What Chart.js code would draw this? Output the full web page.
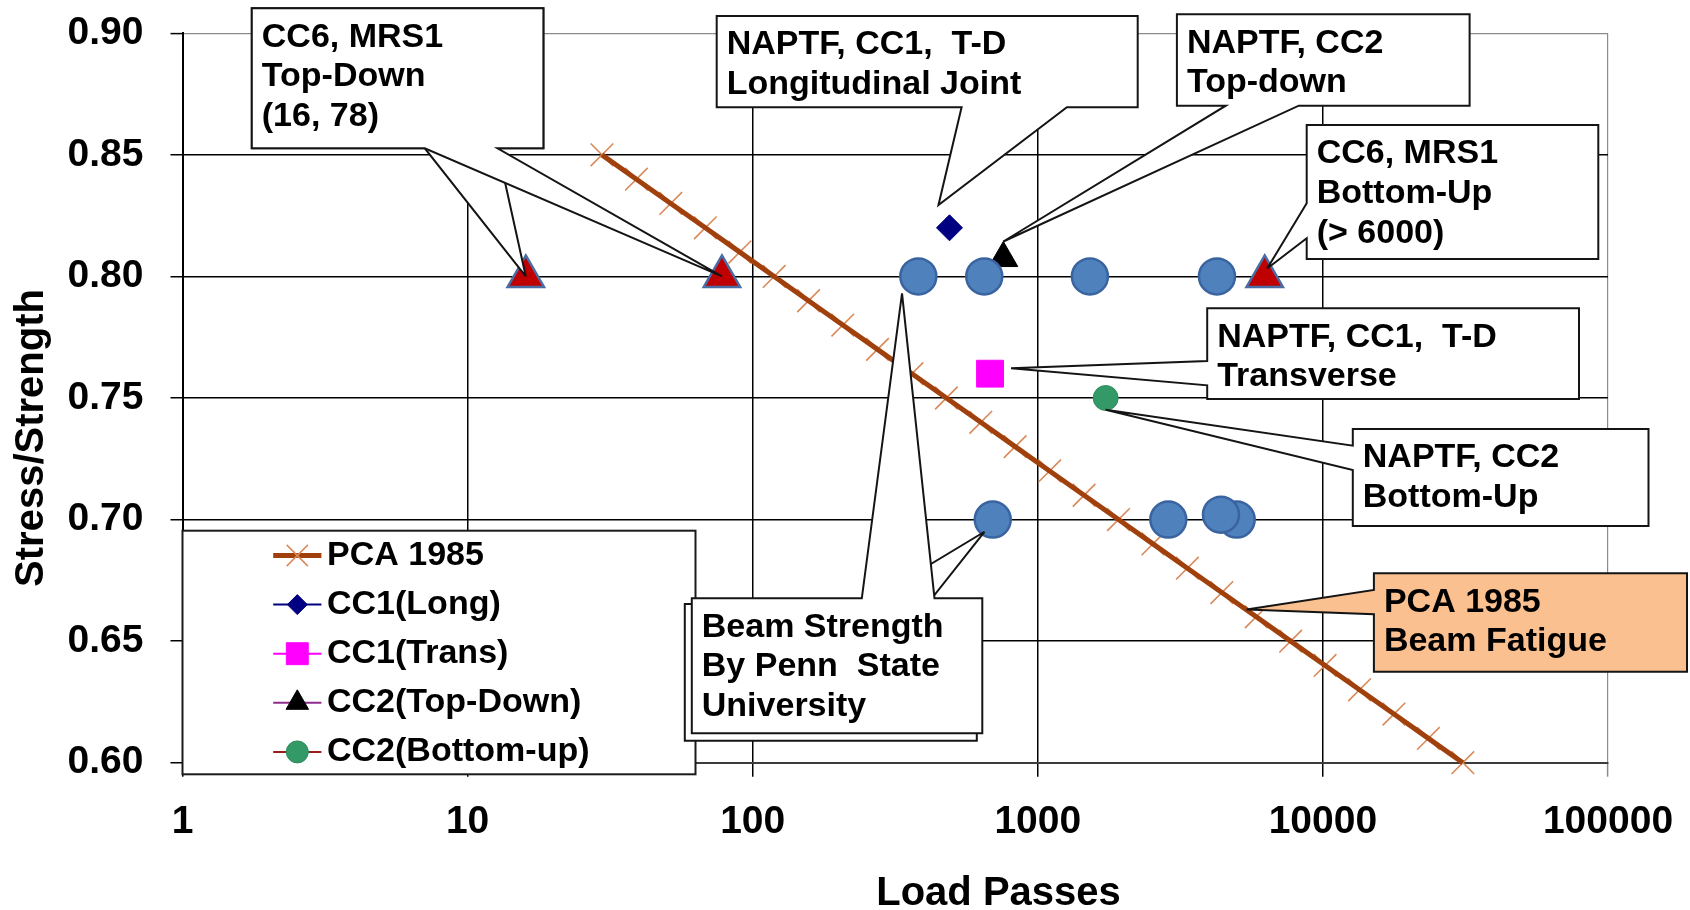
<!DOCTYPE html>
<html>
<head>
<meta charset="utf-8">
<title>Stress/Strength vs Load Passes</title>
<script src="https://cdn.jsdelivr.net/npm/chart.js@4.4.1/dist/chart.umd.min.js"></script>
<style>
  html, body { margin: 0; padding: 0; background: #ffffff; }
  canvas { display: block; }
</style>
</head>
<body>
<canvas id="fatigue" width="1690" height="910"></canvas>
<script>
const FONT = "'Liberation Sans', Arial, Helvetica, sans-serif";

// Axis ticks
const xTickValues = [1, 10, 100, 1000, 10000, 100000];
const xTickLabels = ['1', '10', '100', '1000', '10000', '100000'];
const yTickValues = [0.60, 0.65, 0.70, 0.75, 0.80, 0.85, 0.90];
const yTickLabels = ['0.60', '0.65', '0.70', '0.75', '0.80', '0.85', '0.90'];
const xAxisTitle = 'Load Passes';
const yAxisTitle = 'Stress/Strength';

// PCA 1985 beam fatigue curve
const pcaStress = [0.85, 0.84, 0.83, 0.82, 0.81, 0.80, 0.79, 0.78, 0.77, 0.76, 0.75, 0.74, 0.73,
                   0.72, 0.71, 0.70, 0.69, 0.68, 0.67, 0.66, 0.65, 0.64, 0.63, 0.62, 0.61, 0.60];
const pcaPasses = [29.6, 39.1, 51.6, 68.2, 90.1, 119, 157, 207, 274, 362, 478, 631, 833,
                   1100, 1453, 1919, 2534, 3347, 4420, 5837, 7708, 10180, 13440, 17750, 23440, 30960];
const pcaNoteAt = [5400, 0.663];

// Beam strength results (Penn State)
const beamPasses = [381, 649, 1523, 4250, 695, 2869, 4985, 4390];
const beamStress = [0.80, 0.80, 0.80, 0.80, 0.70, 0.70, 0.70, 0.702];

// CC6, MRS1 (two top-down, one bottom-up)
const cc6Passes = [16, 78, 6250];
const cc6Stress = [0.80, 0.80, 0.80];

// NAPTF test items
const cc1LongPasses = [490];    const cc1LongStress = [0.82];
const cc1TransPasses = [680];   const cc1TransStress = [0.76];
const cc2TopPasses = [757];     const cc2TopStress = [0.8075];
const cc2BottomPasses = [1730]; const cc2BottomStress = [0.75];

const pts = (xs, ys) => xs.map((x, i) => ({ x: x, y: ys[i] }));

const PCA_LINE = '#A0410D';
const PCA_MARK = '#D98A5A';

const datasets = [
  // curve drawn above its own cross markers
  { label: 'PCA 1985', data: pts(pcaPasses, pcaStress), showLine: true,
    borderColor: PCA_LINE, borderWidth: 5, pointRadius: 0, pointStyle: 'crossRot',
    pointBorderColor: PCA_MARK, pointBorderWidth: 1.5, pointBackgroundColor: 'rgba(0,0,0,0)',
    order: 7, clip: false, inLegend: true, legendRadius: 15 },
  { label: 'PCA 1985 markers', data: pts(pcaPasses, pcaStress), showLine: false,
    pointStyle: 'crossRot', pointRadius: 16, pointBorderColor: PCA_MARK, pointBorderWidth: 1.6,
    pointBackgroundColor: 'rgba(0,0,0,0)', order: 8, clip: false, inLegend: false },
  { label: 'CC1(Long)', data: pts(cc1LongPasses, cc1LongStress),
    borderColor: '#000080', borderWidth: 2, pointStyle: 'rectRot', pointRadius: 13,
    pointBackgroundColor: '#000080', pointBorderColor: '#000080', pointBorderWidth: 1,
    order: 5, inLegend: true, legendRadius: 10 },
  { label: 'CC1(Trans)', data: pts(cc1TransPasses, cc1TransStress),
    borderColor: '#FF00FF', borderWidth: 2, pointStyle: 'rect', pointRadius: 19,
    pointBackgroundColor: '#FF00FF', pointBorderColor: '#FF00FF', pointBorderWidth: 1,
    order: 4, inLegend: true, legendRadius: 15.5 },
  { label: 'CC2(Top-Down)', data: pts(cc2TopPasses, cc2TopStress),
    borderColor: '#8E2C8E', borderWidth: 2, pointStyle: 'triangle', pointRadius: 16.7,
    pointBackgroundColor: '#000000', pointBorderColor: '#000000', pointBorderWidth: 1,
    order: 6, inLegend: true, legendRadius: 13 },
  { label: 'CC2(Bottom-up)', data: pts(cc2BottomPasses, cc2BottomStress),
    borderColor: '#9E1B1B', borderWidth: 2, pointStyle: 'circle', pointRadius: 12.5,
    pointBackgroundColor: '#339966', pointBorderColor: '#2F8C5E', pointBorderWidth: 1,
    order: 3, inLegend: true, legendRadius: 11 },
  { label: 'Beam Strength', data: pts(beamPasses, beamStress),
    pointStyle: 'circle', pointRadius: 18, pointBackgroundColor: '#4F81BD',
    pointBorderColor: '#3A64A0', pointBorderWidth: 2.5, order: 1, inLegend: false },
  { label: 'CC6, MRS1', data: pts(cc6Passes, cc6Stress),
    pointStyle: 'triangle', pointRadius: 21, pointBackgroundColor: '#C00000',
    pointBorderColor: '#4A6DA3', pointBorderWidth: 2.5, order: 2, inLegend: false }
];

// Callout boxes: box [x, y, w, h], the edge the pointer leaves from, the pointer base on that edge,
// and the data point the pointer reaches (plus a small pixel nudge of the tip).
const callouts = [
  { box: [251.8, 8.3, 291.6, 140], side: 'bottom', base: [424.8, 497.5],
    target: [cc6Passes[0], cc6Stress[0]], nudge: [0, 0], lines: [] },
  { box: [251.8, 8.3, 291.6, 140], side: 'bottom', base: [424.8, 497.5],
    target: [cc6Passes[1], cc6Stress[1]], nudge: [0, 0],
    lines: ['CC6, MRS1', 'Top-Down', '(' + cc6Passes[0] + ', ' + cc6Passes[1] + ')'] },
  { box: [716.7, 16, 421, 91.3], side: 'bottom', base: [961.6, 1066.9],
    target: [cc1LongPasses[0], cc1LongStress[0]], nudge: [-11, -22.7],
    lines: ['NAPTF, CC1,  T-D', 'Longitudinal Joint'] },
  { box: [1176.9, 14.3, 292.7, 91.4], side: 'bottom', base: [1225.8, 1298.8],
    target: [cc2TopPasses[0], cc2TopStress[0]], nudge: [0, -16.7],
    lines: ['NAPTF, CC2', 'Top-down'] },
  { box: [1306.7, 125, 291.6, 134], side: 'left', base: [203.3, 238.3],
    target: [cc6Passes[2], cc6Stress[2]], nudge: [2.5, -8],
    lines: ['CC6, MRS1', 'Bottom-Up', '(> 6000)'] },
  { box: [1207.2, 308.3, 371.8, 90.7], side: 'left', base: [361, 385.3],
    target: [cc1TransPasses[0], cc1TransStress[0]], nudge: [21, -5.4],
    lines: ['NAPTF, CC1,  T-D', 'Transverse'] },
  { box: [1352.8, 429, 295.7, 97], side: 'left', base: [445.7, 470],
    target: [cc2BottomPasses[0], cc2BottomStress[0]], nudge: [0, 11.7],
    lines: ['NAPTF, CC2', 'Bottom-Up'] },
  { box: [1373.9, 573.3, 313.1, 98.4], side: 'left', base: [590, 614.3],
    target: pcaNoteAt, nudge: [0, 0], fill: '#FAC090',
    lines: ['PCA 1985', 'Beam Fatigue'] },
  { box: [684.8, 604, 292, 136.7], side: 'top', base: [864.4, 927.4],
    target: [beamPasses[4], beamStress[4]], nudge: [-8.3, 12.2], lines: [] },
  { box: [691.8, 598.3, 290.5, 135], side: 'top', base: [861.8, 934.5],
    target: [beamPasses[0], beamStress[0]], nudge: [-16.3, 16.9],
    lines: ['Beam Strength', 'By Penn  State', 'University'] }
];

const legendBox = { x: 182.5, y: 530.7, w: 513, h: 243.6, rowY: 555.5, rowStep: 49.1,
                    lineX0: 273.2, lineX1: 321.4, markX: 297.3, textX: 327 };

function drawMarker(ctx, style, r, x, y, fill, stroke, bw) {
  ctx.save();
  ctx.beginPath();
  if (style === 'circle') {
    ctx.arc(x, y, r, 0, Math.PI * 2);
  } else if (style === 'rect') {
    const s = r * Math.SQRT1_2;
    ctx.rect(x - s, y - s, 2 * s, 2 * s);
  } else if (style === 'rectRot') {
    ctx.moveTo(x - r, y); ctx.lineTo(x, y - r); ctx.lineTo(x + r, y); ctx.lineTo(x, y + r); ctx.closePath();
  } else if (style === 'triangle') {
    const h = r * Math.sin(Math.PI / 3);
    ctx.moveTo(x, y - r); ctx.lineTo(x + h, y + r / 2); ctx.lineTo(x - h, y + r / 2); ctx.closePath();
  } else if (style === 'crossRot') {
    const d = r * Math.SQRT1_2;
    ctx.moveTo(x - d, y - d); ctx.lineTo(x + d, y + d);
    ctx.moveTo(x + d, y - d); ctx.lineTo(x - d, y + d);
  }
  if (style !== 'crossRot') { ctx.fillStyle = fill; ctx.fill(); }
  if (bw > 0) { ctx.lineWidth = bw; ctx.strokeStyle = stroke; ctx.stroke(); }
  ctx.restore();
}

function calloutPath(ctx, c, tip) {
  const [x, y, w, h] = c.box;
  const r = x + w, b = y + h;
  ctx.beginPath();
  ctx.moveTo(x, y);
  if (c.side === 'top') { ctx.lineTo(c.base[0], y); ctx.lineTo(tip.x, tip.y); ctx.lineTo(c.base[1], y); }
  ctx.lineTo(r, y);
  ctx.lineTo(r, b);
  if (c.side === 'bottom') { ctx.lineTo(c.base[1], b); ctx.lineTo(tip.x, tip.y); ctx.lineTo(c.base[0], b); }
  ctx.lineTo(x, b);
  if (c.side === 'left') { ctx.lineTo(x, c.base[1]); ctx.lineTo(tip.x, tip.y); ctx.lineTo(x, c.base[0]); }
  ctx.closePath();
}

const whiteBackground = {
  id: 'whiteBackground',
  beforeDraw(chart) {
    const ctx = chart.ctx;
    ctx.save();
    ctx.fillStyle = '#ffffff';
    ctx.fillRect(0, 0, chart.width, chart.height);
    ctx.restore();
  }
};

const legendAndNotes = {
  id: 'legendAndNotes',
  afterDatasetsDraw(chart) {
    const ctx = chart.ctx;
    const xs = chart.scales.x, ys = chart.scales.y;

    // legend
    ctx.save();
    ctx.fillStyle = '#ffffff';
    ctx.fillRect(legendBox.x, legendBox.y, legendBox.w, legendBox.h);
    ctx.lineWidth = 2;
    ctx.strokeStyle = '#1a1a1a';
    ctx.strokeRect(legendBox.x, legendBox.y, legendBox.w, legendBox.h);
    ctx.font = 'bold 34px ' + FONT;
    ctx.textBaseline = 'middle';
    ctx.textAlign = 'left';
    let row = 0;
    chart.data.datasets.forEach(ds => {
      if (!ds.inLegend) return;
      const y = legendBox.rowY + row * legendBox.rowStep;
      ctx.beginPath();
      ctx.moveTo(legendBox.lineX0, y);
      ctx.lineTo(legendBox.lineX1, y);
      ctx.lineWidth = ds.borderWidth;
      ctx.strokeStyle = ds.borderColor;
      ctx.stroke();
      drawMarker(ctx, ds.pointStyle, ds.legendRadius, legendBox.markX, y,
                 ds.pointBackgroundColor, ds.pointBorderColor, ds.pointBorderWidth);
      ctx.fillStyle = '#000000';
      ctx.fillText(ds.label, legendBox.textX, y);
      row++;
    });
    ctx.restore();

    // callouts
    ctx.save();
    ctx.lineJoin = 'miter';
    ctx.miterLimit = 4;
    callouts.forEach(c => {
      const tip = {
        x: xs.getPixelForValue(c.target[0]) + c.nudge[0],
        y: ys.getPixelForValue(c.target[1]) + c.nudge[1]
      };
      calloutPath(ctx, c, tip);
      ctx.fillStyle = c.fill || '#ffffff';
      ctx.fill();
      ctx.lineWidth = 2;
      ctx.strokeStyle = '#141414';
      ctx.stroke();
      ctx.font = 'bold 34px ' + FONT;
      ctx.fillStyle = '#000000';
      ctx.textBaseline = 'middle';
      ctx.textAlign = 'left';
      c.lines.forEach((t, i) => ctx.fillText(t, c.box[0] + 10, c.box[1] + 29 + i * 39.6));
    });
    ctx.restore();
  },
  afterDraw(chart) {
    const ctx = chart.ctx;
    ctx.save();
    ctx.font = 'bold 40px ' + FONT;
    ctx.fillStyle = '#000000';
    ctx.textAlign = 'center';
    ctx.textBaseline = 'alphabetic';
    ctx.fillText(xAxisTitle, 998.5, 905);
    ctx.translate(43.3, 438);
    ctx.rotate(-Math.PI / 2);
    ctx.fillText(yAxisTitle, 0, 0);
    ctx.restore();
  }
};

const tickFont = { family: FONT, size: 39, weight: 'bold' };

new Chart(document.getElementById('fatigue'), {
  type: 'scatter',
  data: { datasets: datasets },
  options: {
    responsive: false,
    animation: false,
    events: [],
    layout: { autoPadding: false, padding: { top: 33.3, right: 82, bottom: 0, left: 0 } },
    plugins: { legend: { display: false }, tooltip: { enabled: false }, title: { display: false } },
    scales: {
      x: {
        type: 'logarithmic',
        min: 1,
        max: 100000,
        afterBuildTicks: s => { s.ticks = xTickValues.map(v => ({ value: v })); },
        afterFit: s => {
          s.height = 910 - 762.7;
          s.paddingLeft = 0; s.paddingRight = 0;
        },
        ticks: {
          callback: (v, i) => xTickLabels[i],
          font: tickFont, color: '#000000', padding: 22,
          autoSkip: false, maxRotation: 0, minRotation: 0
        },
        grid: {
          color: c => (c.tick && c.tick.value === 100000) ? '#8c8c8c' : '#000000',
          lineWidth: c => (c.tick && c.tick.value === 100000) ? 1.2 : 1.5,
          tickColor: c => (c.tick && c.tick.value === 100000) ? '#8c8c8c' : '#000000',
          tickLength: 14,
          tickWidth: 1.5
        },
        border: { display: true, color: '#3c3c3c', width: 2 }
      },
      y: {
        min: 0.6,
        max: 0.9,
        afterBuildTicks: s => { s.ticks = yTickValues.map(v => ({ value: v })); },
        afterFit: s => {
          s.width = 182.5;
          s.paddingTop = 0; s.paddingBottom = 0;
        },
        ticks: {
          callback: (v, i) => yTickLabels[i],
          font: tickFont, color: '#000000', padding: 27
        },
        grid: {
          color: c => (c.tick && c.tick.value === 0.9) ? '#8c8c8c' : '#000000',
          lineWidth: c => (c.tick && c.tick.value === 0.9) ? 1.2 : 1.5,
          tickColor: '#000000',
          tickLength: 12,
          tickWidth: 1.5
        },
        border: { display: true, color: '#000000', width: 2 }
      }
    }
  },
  plugins: [whiteBackground, legendAndNotes]
});
</script>
</body>
</html>
